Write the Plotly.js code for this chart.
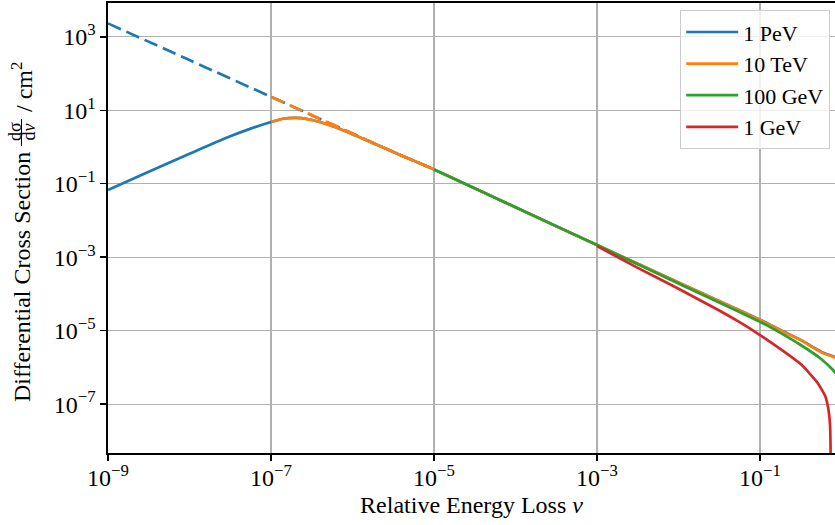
<!DOCTYPE html>
<html>
<head>
<meta charset="utf-8">
<script src="https://cdn.plot.ly/plotly-3.0.1.min.js"></script>
<style>
  html, body { margin: 0; padding: 0; background: #fff; overflow: hidden; }
  #chart { width: 835px; height: 525px; }
</style>
</head>
<body>
<div id="chart"></div>
<script>
// Bremsstrahlung differential cross section vs. relative energy loss v
const seriesNames = ['1 PeV', '10 TeV', '100 GeV', '1 GeV'];
const seriesColors = ['#1f77b4', '#ff7f0e', '#2ca02c', '#d62728'];

// 1 PeV (with dielectric suppression)
const vPeV = [1e-9, 3.16e-9, 1e-8, 3.16e-8, 5.62e-8, 1e-7, 1.41e-7, 2e-7, 2.82e-7, 3.98e-7, 5.62e-7, 1e-6, 3.16e-6,
              1e-5, 1e-4, 1e-3, 1e-2, 1e-1, 0.178, 0.316, 0.562, 0.787, 0.85];
const sPeV = [0.0676, 0.211, 0.653, 1.95, 3.16, 4.79, 5.89, 6.17, 5.75, 4.79, 3.72, 2.24, 0.733,
              0.245, 0.0229, 2.14e-3, 2.04e-4, 2.0e-5, 1.04e-5, 5.6e-6, 2.69e-6, 2.0e-6, 1.86e-6];

// 1 PeV without suppression
const vPeVFree = [1e-9, 1e-8, 1e-7, 3.16e-7, 1e-6, 3.16e-6, 1e-5];
const sPeVFree = [2320, 232, 23.3, 7.36, 2.33, 0.738, 0.245];

// 10 TeV
const vTeV = [1e-7, 1.41e-7, 2e-7, 2.82e-7, 3.98e-7, 5.62e-7, 1e-6, 3.16e-6, 1e-5, 1e-4, 1e-3, 1e-2, 1e-1,
              0.178, 0.316, 0.562, 0.787, 0.85];
const sTeV = [4.79, 5.89, 6.17, 5.75, 4.79, 3.72, 2.24, 0.733, 0.245, 0.0229, 2.14e-3, 2.04e-4, 1.95e-5,
              1.02e-5, 5.5e-6, 2.6e-6, 1.95e-6, 1.82e-6];

// 10 TeV without suppression
const vTeVFree = [1e-7, 3.16e-7, 1e-6, 3.16e-6, 1e-5];
const sTeVFree = [23.3, 7.36, 2.33, 0.738, 0.245];

// 100 GeV
const vGeV100 = [1e-5, 1e-4, 1e-3, 1e-2, 1e-1, 0.178, 0.316, 0.562, 0.787, 0.85];
const sGeV100 = [0.245, 0.0229, 2.14e-3, 1.93e-4, 1.74e-5, 8.7e-6, 4.07e-6, 1.70e-6, 8.5e-7, 6.8e-7];

// 1 GeV
const vGeV1 = [1e-3, 3.16e-3, 1e-2, 3.16e-2, 5.62e-2, 0.1, 0.178, 0.316, 0.501, 0.631,
               0.692, 0.723, 0.733, 0.7365, 0.737];
const sGeV1 = [2.0e-3, 5.13e-4, 1.38e-4, 3.55e-5, 1.70e-5, 7.59e-6, 3.16e-6, 1.23e-6, 3.98e-7, 1.66e-7,
               6.92e-8, 2.69e-8, 7.9e-9, 1e-9, 1e-12];

const xTickVals = [1e-9, 1e-7, 1e-5, 1e-3, 1e-1];
const xTickText = ['10<sup>\u22129</sup>', '10<sup>\u22127</sup>', '10<sup>\u22125</sup>', '10<sup>\u22123</sup>', '10<sup>\u22121</sup>'];
const yTickVals = [1e-7, 1e-5, 1e-3, 1e-1, 1e1, 1e3];
const yTickText = ['10<sup>\u22127</sup>', '10<sup>\u22125</sup>', '10<sup>\u22123</sup>', '10<sup>\u22121</sup>', '10<sup>1</sup>', '10<sup>3</sup>'];

const LW = 2.7;
const DASH = '14px,6px';

const traces = [
  { x: vPeV, y: sPeV, name: seriesNames[0], mode: 'lines',
    line: { color: seriesColors[0], width: LW, shape: 'spline', smoothing: 0.8 } },
  { x: vPeVFree, y: sPeVFree, mode: 'lines', showlegend: false, hoverinfo: 'skip',
    line: { color: seriesColors[0], width: LW, dash: DASH, shape: 'spline', smoothing: 0.8 } },
  { x: vTeV, y: sTeV, name: seriesNames[1], mode: 'lines',
    line: { color: seriesColors[1], width: LW, shape: 'spline', smoothing: 0.8 } },
  { x: vTeVFree, y: sTeVFree, mode: 'lines', showlegend: false, hoverinfo: 'skip',
    line: { color: seriesColors[1], width: LW, dash: DASH, shape: 'spline', smoothing: 0.8 } },
  { x: vGeV100, y: sGeV100, name: seriesNames[2], mode: 'lines',
    line: { color: seriesColors[2], width: LW, shape: 'spline', smoothing: 0.8 } },
  { x: vGeV1, y: sGeV1, name: seriesNames[3], mode: 'lines',
    line: { color: seriesColors[3], width: LW, shape: 'spline', smoothing: 0.5 } },
  // carrier for the labelled bottom axis
  { x: [], y: [], xaxis: 'x2', yaxis: 'y', mode: 'lines', showlegend: false, hoverinfo: 'skip' }
];

// plot area in pixels: left 108, right 835, top 3, bottom 453
const PL = 108, PR = 835, PT = 3, PB = 453;
const px = (x) => (x - PL) / (PR - PL);
const py = (y) => (PB - y) / (PB - PT);

const FONT = 'Liberation Serif, Times New Roman, serif';
const X_RANGE = [-9, -0.08];

const layout = {
  width: 835, height: 525,
  margin: { l: PL, r: 835 - PR, t: PT, b: 525 - PB },
  paper_bgcolor: '#ffffff', plot_bgcolor: '#ffffff',
  font: { family: FONT, size: 24, color: '#000000' },
  showlegend: true,
  legend: {
    x: px(830), y: py(10), xanchor: 'right', yanchor: 'top',
    bgcolor: 'rgba(255,255,255,0.8)', bordercolor: '#cccccc', borderwidth: 1.2,
    font: { family: FONT, size: 22, color: '#000000' },
    itemwidth: 52, entrywidth: 158, entrywidthmode: 'pixels', tracegroupgap: 0
  },
  // tick marks, grid and frame
  xaxis: {
    type: 'log', range: X_RANGE,
    tickmode: 'array', tickvals: xTickVals, showticklabels: false,
    ticks: 'outside', ticklen: 6, tickwidth: 1.5, tickcolor: '#000000',
    showline: true, linecolor: '#000000', linewidth: 1.6, mirror: true,
    showgrid: true, gridcolor: '#b0b0b0', gridwidth: 1.2, zeroline: false
  },
  // tick labels and title
  xaxis2: {
    type: 'log', range: X_RANGE, overlaying: 'x', anchor: 'y', side: 'bottom',
    tickmode: 'array', tickvals: xTickVals, ticktext: xTickText,
    ticks: '', showline: false, showgrid: false, zeroline: false,
    tickfont: { family: FONT, size: 24 }, ticklabelstandoff: 8,
    title: { text: 'Relative Energy Loss <i>v</i>', font: { family: FONT, size: 24 }, standoff: 6 }
  },
  yaxis: {
    type: 'log', range: [-8.33, 3.92],
    tickmode: 'array', tickvals: yTickVals, ticktext: yTickText,
    ticks: 'outside', ticklen: 6, tickwidth: 1.5, tickcolor: '#000000',
    showline: true, linecolor: '#000000', linewidth: 1.6, mirror: false,
    showgrid: true, gridcolor: '#b0b0b0', gridwidth: 1.2, zeroline: false,
    tickfont: { family: FONT, size: 24 }
  },
  annotations: [
    { text: 'Differential Cross Section', xref: 'paper', yref: 'paper',
      x: px(22), y: py(277), xanchor: 'center', yanchor: 'middle', textangle: -90,
      showarrow: false, font: { family: FONT, size: 24 } },
    { text: 'd\u03c3', xref: 'paper', yref: 'paper',
      x: px(15), y: py(132), xanchor: 'center', yanchor: 'middle', textangle: -90,
      showarrow: false, font: { family: FONT, size: 18 } },
    { text: 'd<i>v</i>', xref: 'paper', yref: 'paper',
      x: px(28.5), y: py(132), xanchor: 'center', yanchor: 'middle', textangle: -90,
      showarrow: false, font: { family: FONT, size: 18 } },
    { text: '/ cm<sup>2</sup>', xref: 'paper', yref: 'paper',
      x: px(22), y: py(87), xanchor: 'center', yanchor: 'middle', textangle: -90,
      showarrow: false, font: { family: FONT, size: 24 } }
  ],
  shapes: [
    { type: 'line', xref: 'paper', yref: 'paper',
      x0: px(21.5), x1: px(21.5), y0: py(119), y1: py(146),
      line: { color: '#000000', width: 1 } }
  ]
};

Plotly.newPlot('chart', traces, layout, { displayModeBar: false, staticPlot: true });
</script>
</body>
</html>
